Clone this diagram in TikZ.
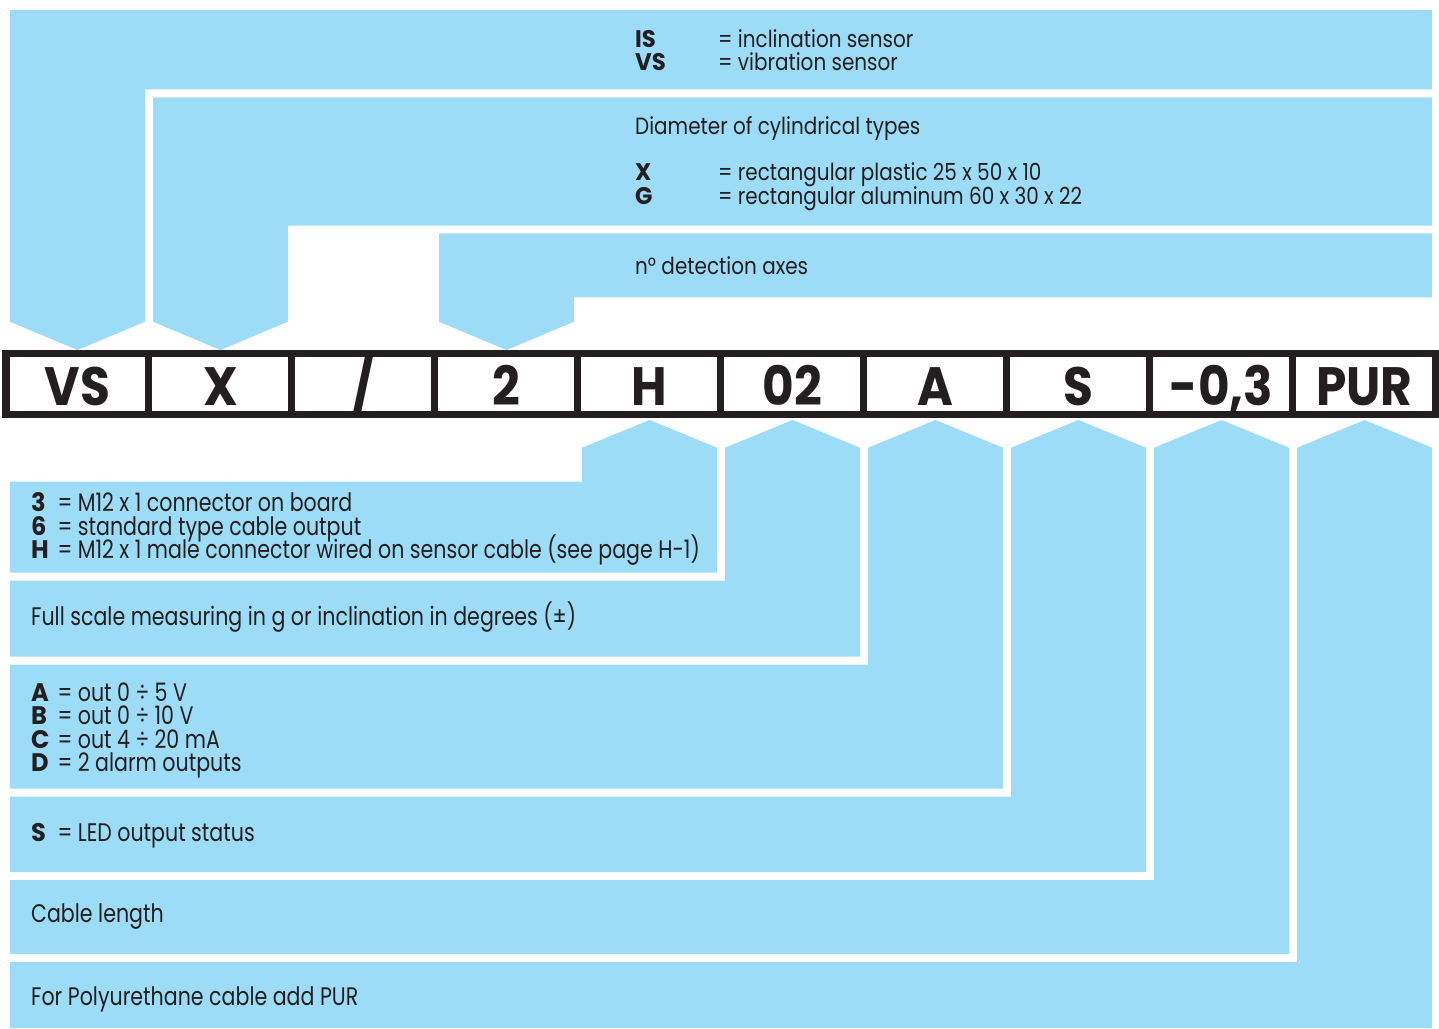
\documentclass[tikz,border=0pt]{standalone}
\usepackage{fontspec}
\newfontfamily\txtfont{Poppins}[FakeStretch=0.81]
\newfontfamily\toptxtfont{Poppins}[FakeStretch=0.85]
\newfontfamily\keyfont{Poppins}[FakeStretch=0.95]
\newfontfamily\codefont{Poppins}[FakeStretch=0.90]
\definecolor{band}{HTML}{9DDCF6}
\definecolor{ink}{HTML}{231F20}
\tikzset{
  bandshape/.style={fill=band, draw=none},
  lbl/.style={anchor=base west, inner sep=0pt, text=ink, font=\txtfont\fontsize{25.4}{25.4}\selectfont},
  keylbl/.style={anchor=base west, inner sep=0pt, text=ink, font=\keyfont\bfseries\fontsize{25.4}{25.4}\selectfont},
  toplbl/.style={anchor=base west, inner sep=0pt, text=ink, font=\toptxtfont\fontsize{23.5}{23.5}\selectfont},
  topkey/.style={anchor=base west, inner sep=0pt, text=ink, font=\keyfont\bfseries\fontsize{24}{24}\selectfont},
  codelbl/.style={anchor=base, inner sep=0pt, text=ink, font=\codefont\bfseries\fontsize{54}{54}\selectfont},
  rowline/.style={draw=ink, line width=7.3pt},
}
\begin{document}
\begin{tikzpicture}[x=1pt,y=-1pt]
\useasboundingbox (0,0) rectangle (1439,1028);
% ---- upper bands (pointing down) ----
\fill[bandshape] (10,10) -- (1432,10) -- (1432,89.3) -- (145,89.3) -- (145,321.7) -- (77.5,350) -- (10,321.7) -- cycle;
\fill[bandshape] (153,97.3) -- (1432,97.3) -- (1432,225.7) -- (288,225.7) -- (288,321.7) -- (220.5,350) -- (153,321.7) -- cycle;
\fill[bandshape] (439,233.3) -- (1432,233.3) -- (1432,297.3) -- (574,297.3) -- (574,321.7) -- (506.5,350) -- (439,321.7) -- cycle;
% ---- lower bands (pointing up) ----
\fill[bandshape] (582,447.7) -- (649.5,420) -- (717,447.7) -- (717,572.7) -- (10,572.7) -- (10,481.7) -- (582,481.7) -- cycle;
\fill[bandshape] (725,447.7) -- (792.5,420) -- (860,447.7) -- (860,656.7) -- (10,656.7) -- (10,580.7) -- (725,580.7) -- cycle;
\fill[bandshape] (868,447.7) -- (935.5,420) -- (1003,447.7) -- (1003,788.7) -- (10,788.7) -- (10,664.7) -- (868,664.7) -- cycle;
\fill[bandshape] (1011,447.7) -- (1078.5,420) -- (1146,447.7) -- (1146,872) -- (10,872) -- (10,796.7) -- (1011,796.7) -- cycle;
\fill[bandshape] (1154,447.7) -- (1221.5,420) -- (1289,447.7) -- (1289,954) -- (10,954) -- (10,880) -- (1154,880) -- cycle;
\fill[bandshape] (1297,447.7) -- (1364.5,420) -- (1432,447.7) -- (1432,1028) -- (10,1028) -- (10,962) -- (1297,962) -- cycle;
% ---- code row ----
\draw[rowline] (6,353.7) rectangle (1436,414.7);
\foreach \k in {0,...,8} {
  \draw[rowline] ({148.5+143*\k},353.7) -- ({148.5+143*\k},414.7);
}
\node[codelbl] (cVS)  at (77.5,405)  {VS};
\node[codelbl] (cX)   at (220.5,405) {X};
\node[codelbl] (cSl)  at (363.5,405) {/};
\node[codelbl] (c2)   at (506.5,405) {2};
\node[codelbl] (cH)   at (649.5,405) {H};
\node[codelbl] (c02)  at (792.5,405) {02};
\node[codelbl] (cA)   at (935.5,405) {A};
\node[codelbl] (cS)   at (1078.5,405) {S};
\node[codelbl] (c03)  at (1221.5,405) {-0,3};
\node[codelbl] (cPUR) at (1364.5,405) {PUR};
% ---- upper texts ----
\node[topkey] (kIS) at (635,47.3) {IS};
\node[toplbl] (tIS) at (718,47.3) {= inclination sensor};
\node[topkey] (kVS) at (635,70.5) {VS};
\node[toplbl] (tVS) at (718,70.5) {= vibration sensor};
\node[toplbl] (tDia) at (635,134) {Diameter of cylindrical types};
\node[topkey] (kX) at (635,180.7) {X};
\node[toplbl] (tX) at (718,180.7) {= rectangular plastic 25 x 50 x 10};
\node[topkey] (kG) at (635,204) {G};
\node[toplbl] (tG) at (718,204) {= rectangular aluminum 60 x 30 x 22};
\node[toplbl] (tAx) at (635,274.3) {n° detection axes};
% ---- lower texts ----
\node[keylbl] (k3) at (31,511.7) {3};
\node[lbl] (t3) at (57.3,511.7) {= M12 x 1 connector on board};
\node[keylbl] (k6) at (31,535) {6};
\node[lbl] (t6) at (57.3,535) {= standard type cable output};
\node[keylbl] (kH) at (31,558.7) {H};
\node[lbl] (tH) at (57.3,558.7) {= M12 x 1 male connector wired on sensor cable (see page H-1)};
\node[lbl] (tFS) at (31,625.7) {Full scale measuring in g or inclination in degrees (±)};
\node[keylbl] (kA) at (31,701) {A};
\node[lbl] (tA) at (57.3,701) {= out 0 ÷ 5 V};
\node[keylbl] (kB) at (31,724.5) {B};
\node[lbl] (tB) at (57.3,724.5) {= out 0 ÷ 10 V};
\node[keylbl] (kC) at (31,748.2) {C};
\node[lbl] (tC) at (57.3,748.2) {= out 4 ÷ 20 mA};
\node[keylbl] (kD) at (31,771.7) {D};
\node[lbl] (tD) at (57.3,771.7) {= 2 alarm outputs};
\node[keylbl] (kS) at (31,841) {S};
\node[lbl] (tS) at (57.3,841) {= LED output status};
\node[lbl] (tCL) at (31,922.7) {Cable length};
\node[lbl] (tPUR) at (31,1005) {For Polyurethane cable add PUR};
\end{tikzpicture}
\end{document}
